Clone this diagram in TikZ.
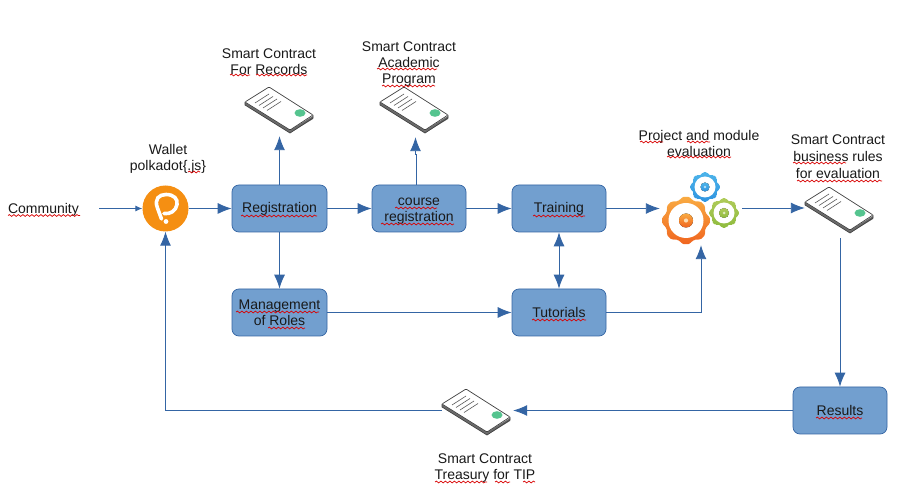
\documentclass[tikz,border=0pt]{standalone}
\usepackage{fontspec}
\setmainfont{Liberation Sans}
\usetikzlibrary{arrows.meta,decorations.pathmorphing}
\definecolor{boxfill}{HTML}{729FCF}
\definecolor{linec}{HTML}{3465A4}
\definecolor{cardgreen}{HTML}{55C48F}
\definecolor{walletc}{HTML}{F58F12}
\definecolor{gorangeT}{HTML}{F9AB42}
\definecolor{gorangeB}{HTML}{F0651F}
\definecolor{gblueT}{HTML}{4DB4EA}
\definecolor{gblueB}{HTML}{2F94E0}
\definecolor{ggreenT}{HTML}{AFCB5A}
\definecolor{ggreenB}{HTML}{8FBB3E}
\tikzset{
  x=1pt,y=-1pt,
  txt/.style={inner sep=0pt,align=center,font=\fontsize{14}{16}\selectfont,text=black!90},
  bluebox/.style={draw=linec,fill=boxfill,rounded corners=7pt,line width=.7pt,minimum width=#1,minimum height=47pt,inner sep=0pt,align=center,font=\fontsize{14}{16}\selectfont,text=black!90},
  bluebox/.default=94pt,
  conn/.style={draw=linec,line width=.9pt,-{Latex[length=14pt,width=11pt]}},
  connthin/.style={draw=linec,line width=.9pt,-{Latex[length=7pt,width=6pt]}},
  anchorbox/.style={inner sep=0pt,minimum width=#1,minimum height=#1},
  wavy/.style={draw=red!85!black,line width=.7pt,decorate,decoration={snake,amplitude=.9pt,segment length=4.5pt}},
  pics/card/.style={code={
    \fill[black!55] (0,0) -- (45,28) -- (68,14) -- (68,17) -- (45,31) -- (0,3) -- cycle;
    \draw[black!75,line width=.7pt,fill=white,rounded corners=.8pt] (0,0) -- (24,-15) -- (68,13) -- (45,28) -- cycle;
    \draw[black!60,line width=.5pt] (0,1.5) -- (45,29.5) -- (68,15);
    \draw[black!75,line width=.7pt] (0,0) -- (0,3) -- (45,31) -- (68,16) -- (68,13);
    \draw[black!65,line width=.6pt] (10,1) -- (24,-8) (14,3.5) -- (28,-5.5) (18,6) -- (32,-3) (22,8.5) -- (36,-0.5);
    \fill[cardgreen] (55,11) ellipse (5.5pt and 3.8pt);
  }},
}
\newcommand{\gearicon}[8]{% x,y,outer,root,ring,hub,top,bottom
  \begin{scope}[shift={(#1,#2)}]
    \path[top color=#7,bottom color=#8,rounded corners=1.5pt]
      (0:#3)
      \foreach \k in {0,...,7}{
        -- ({\k*45+9}:#3) -- ({\k*45+15}:#4) -- ({\k*45+30}:#4) -- ({\k*45+36}:#3)
      } -- cycle;
    \fill[white] (0,0) circle (#5);
    \fill[top color=#7,bottom color=#8] (0,0) circle (#6);
    \fill[white!60!#7] (0,0) circle (#6*0.3);
  \end{scope}}
\begin{document}
\begin{tikzpicture}
\useasboundingbox (0,0) rectangle (911,502);
\fill[white] (0,0) rectangle (911,502);
% icons
\pic at (245,102) {card};
\pic at (380,102) {card};
\pic at (805,202) {card};
\pic at (442,404) {card};
\gearicon{705}{187}{15}{13}{10.5}{4.5}{gblueT}{gblueB}
\gearicon{724}{213}{15}{13}{10.5}{5}{ggreenT}{ggreenB}
\gearicon{686}{220.5}{24}{21.5}{17.5}{7}{gorangeT}{gorangeB}
% wallet
\node[circle,fill=walletc,minimum size=46pt,inner sep=0pt] (wallet) at (165.5,208.5) {};
\draw[white,line width=3.6pt,line cap=round] (161.5,219) -- (157.5,208) .. controls (154,199) and (159,194.5) .. (166,194.5) .. controls (174,194.5) and (178,199) .. (177,204.5) .. controls (176,211) and (170,214.5) .. (164,213.5);
\fill[white] (166,221.5) circle (2.4pt);
% boxes
\node[bluebox=95pt] (reg) at (279.5,208.5) {};
\node[txt,yshift=-.8pt] (regtxt) at (reg) {Registration};
\node[bluebox] (course) at (419,208.5) {};
\node[txt,yshift=-3pt] (coursetxt) at (course) {course\\registration};
\node[bluebox] (train) at (559,208.5) {};
\node[txt,yshift=-.8pt] (traintxt) at (train) {Training};
\node[bluebox=95pt] (mgmt) at (279.5,312.5) {Management\\of Roles};
\node[bluebox] (tut) at (559,312.5) {Tutorials};
\node[bluebox] (res) at (840,410.5) {Results};
% labels
\node[txt] (comm) at (43.5,209.5) {Community};
\node[txt] (lwallet) at (168,158.5) {Wallet\\polkadot\{.js\}};
\node[txt] (lrec) at (269,62) {Smart Contract\\For Records};
\node[txt] (lacad) at (409,64) {Smart Contract\\Academic\\Program};
\node[txt] (lproj) at (699,143) {Project and module\\evaluation};
\node[txt,font=\fontsize{14}{17}\selectfont] (lbus) at (838,156.5) {Smart Contract\\business rules\\for evaluation};
\node[txt] (ltre) at (485,468) {Smart Contract\\Treasury for TIP};
% invisible anchors
\node[anchorbox=0pt] (cardrec) at (279.5,136) {};
\node[anchorbox=0pt] (cardacad) at (415.5,137) {};
\node[anchorbox=0pt] (gearsw) at (660,208.5) {};
\node[anchorbox=0pt] (gearse) at (742,208) {};
\node[anchorbox=0pt] (gearss) at (701,245) {};
\node[anchorbox=0pt] (buswest) at (805,208) {};
\node[anchorbox=0pt] (busbot) at (840,238) {};
\node[anchorbox=0pt] (treeast) at (513,410.5) {};
\node[anchorbox=0pt] (trewest) at (442,410.5) {};
\coordinate (commend) at (99,208.5);
\coordinate (corner) at (165.5,410.5);
\coordinate (tutcorner) at (701,312.5);
% connectors
\draw[connthin] (commend) -- (wallet.west);
\draw[conn] (wallet.east) -- (reg.west);
\draw[conn] (reg.north) -- (cardrec);
\draw[conn] (reg.east) -- (course.west);
\draw[conn] (course.north -| cardacad) ++(1,0) -- ++(0,-30) -- ++(-1,0) -- (cardacad);
\draw[conn] (course.east) -- (train.west);
\draw[conn] (train.east) -- (gearsw);
\draw[conn] (gearse) -- (buswest);
\draw[conn] (busbot) -- (res.north);
\draw[conn] (res.west) -- (treeast);
\draw[conn] (trewest) -- (corner) -- (wallet.south);
\draw[conn] (reg.south) -- (mgmt.north);
\draw[conn] (mgmt.east) -- (tut.west);
\draw[conn,{Latex[length=14pt,width=11pt]}-{Latex[length=14pt,width=11pt]}] (tut.north) -- (train.south);
\draw[conn] (tut.east) -- (tutcorner) -- (gearss);
% spell-check underlines
\foreach \a/\b/\c in {8/80/215.5, 188/200/172, 241/317/216, 230/250/75, 256/307/75, 377/437/69, 382/435/86,
  395/437/208, 381/454/224, 533/585/216, 236/319/312, 268/305/328, 532/586/320, 816/862/418,
  640/663/142, 687/710/142, 667/731/157, 793/846/163, 797/882/181, 435/487/482, 495/510/482, 523/535/482}
  \draw[wavy] (\a,\c) -- (\b,\c);
\end{tikzpicture}
\end{document}
